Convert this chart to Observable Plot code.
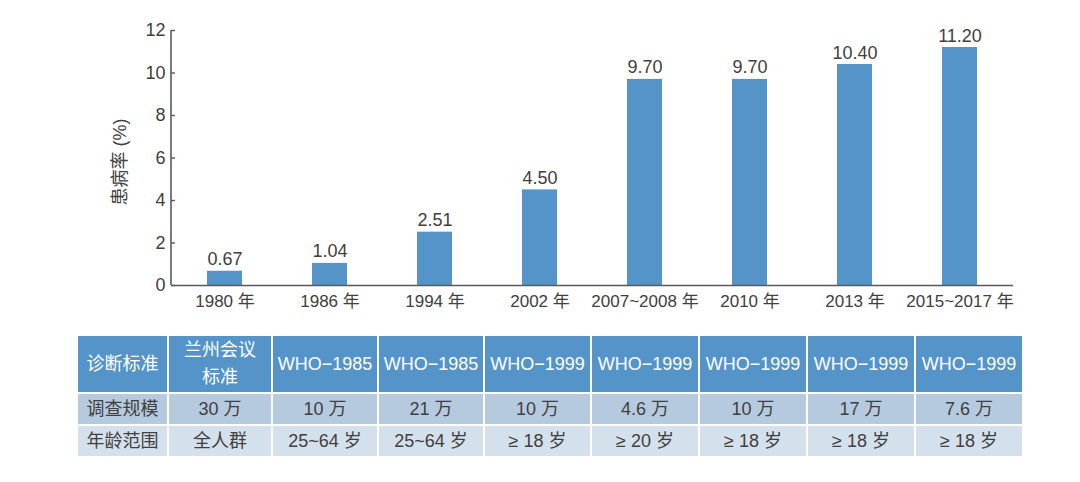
<!DOCTYPE html>
<html><head><meta charset="utf-8">
<script src="https://cdn.jsdelivr.net/npm/d3@7"></script>
<script src="https://cdn.jsdelivr.net/npm/@observablehq/plot@0.6"></script>
<style>
body{margin:0;background:#fff;font-family:"Liberation Sans","Noto Sans CJK SC",sans-serif;}
#wrap{position:relative;width:1080px;height:482px;overflow:hidden;}
#chart{position:absolute;left:0;top:0;}
#tbl{position:absolute;left:76px;top:334px;border-collapse:collapse;font-size:18px;color:#404040;table-layout:fixed;}
#tbl td{border:2px solid #fff;text-align:center;padding:0;white-space:pre-line;line-height:27px;overflow:hidden;}
#tbl tr.h td{background:#5494c9;color:#fff;height:56px;}
#tbl tr.r2 td{background:#b5cadf;height:30px;}
#tbl tr.r3 td{background:#d4e0ec;height:30px;}
</style>
</head><body>
<div id="wrap"><div id="chart"></div><table id="tbl"></table></div>
<script>
const years = ["1980 年","1986 年","1994 年","2002 年","2007~2008 年","2010 年","2013 年","2015~2017 年"];
const prevalence = [0.67,1.04,2.51,4.50,9.70,9.70,10.40,11.20];
const yTicks = [0,2,4,6,8,10,12];
const yLabel = "患病率 (%)";
const rowLabels = ["诊断标准","调查规模","年龄范围"];
const criteria = ["兰州会议\n标准","WHO−1985","WHO−1985","WHO−1999","WHO−1999","WHO−1999","WHO−1999","WHO−1999"];
const sampleSize = ["30 万","10 万","21 万","10 万","4.6 万","10 万","17 万","7.6 万"];
const ageRange = ["全人群","25~64 岁","25~64 岁","≥ 18 岁","≥ 20 岁","≥ 18 岁","≥ 18 岁","≥ 18 岁"];

const data = years.map((y,i)=>({year:y, value:prevalence[i]}));
const font = '"Liberation Sans","Noto Sans CJK SC",sans-serif';

const chart = Plot.plot({
  width:1080, height:320,
  marginLeft:171, marginRight:67, marginTop:30, marginBottom:35,
  style:{fontFamily:font, color:"#404040", background:"transparent", overflow:"visible"},
  x:{type:"band", domain:years, paddingInner:0.667, paddingOuter:0.333, label:null, axis:null},
  y:{domain:[0,12], label:null, axis:null},
  marks:[
    Plot.barY(data,{x:"year", y:"value", fill:"#5494c9"}),
    Plot.ruleY([0],{stroke:"#5a5a5a", strokeWidth:1.6}),
    Plot.axisY({ticks:yTicks, tickSize:-4, tickPadding:10, fontSize:18, label:null, stroke:"#5a5a5a", strokeWidth:1.4}),
    Plot.axisX({tickSize:0, tickPadding:9, fontSize:17, label:null}),
    Plot.text(data,{x:"year", y:"value", text:d=>d.value.toFixed(2), dy:-6, lineAnchor:"bottom", fontSize:18, fill:"#404040"}),
    Plot.text([yLabel],{frameAnchor:"left", textAnchor:"middle", rotate:-90, dx:-51, dy:4, fontSize:"18px", fill:"#404040"})
  ]
});
document.getElementById("chart").appendChild(chart);

// vertical axis line drawn through the y scale
const svg = d3.select(chart);
const ys = chart.scale("y");
const xs = chart.scale("x");
svg.append("line")
  .attr("x1", xs.range[0]).attr("x2", xs.range[0])
  .attr("y1", ys.apply(12)).attr("y2", ys.apply(0))
  .attr("stroke","#5a5a5a").attr("stroke-width",1.6);

// table
const widths = [91,104,106,106,107,108,108,108,108];
const tbl = d3.select("#tbl");
const cg = tbl.append("colgroup");
widths.forEach(w=>cg.append("col").style("width", w+"px"));
const rows = [["h",criteria],["r2",sampleSize],["r3",ageRange]];
rows.forEach(([cls,vals],i)=>{
  const tr = tbl.append("tr").attr("class",cls);
  tr.append("td").text(rowLabels[i]);
  vals.forEach(v=>tr.append("td").text(v));
});
</script>
</body></html>
